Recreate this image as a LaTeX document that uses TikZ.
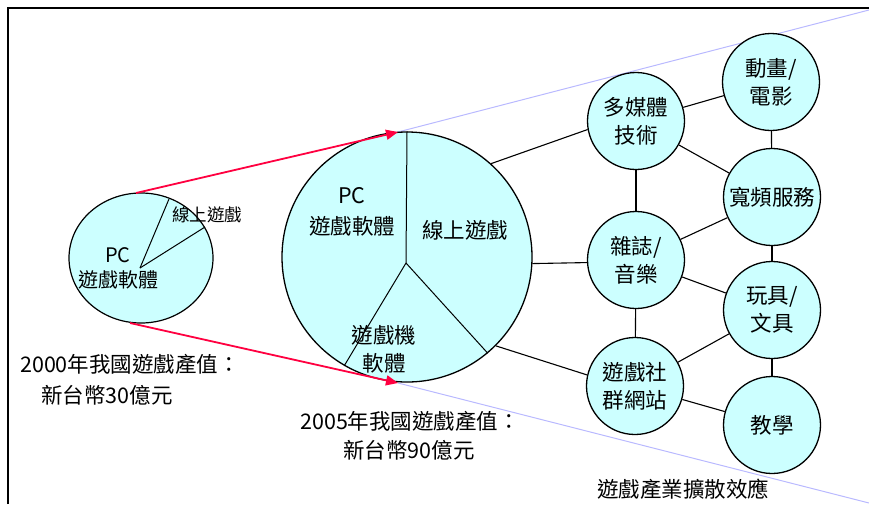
\documentclass[tikz,border=0pt]{standalone}
\usepackage{fontspec}
\setmainfont{Noto Sans CJK TC}
\usetikzlibrary{arrows.meta,shapes.geometric}
\definecolor{fillc}{RGB}{204,255,255}
\definecolor{redl}{RGB}{255,0,64}
\definecolor{lav}{RGB}{185,185,255}
\begin{document}
\begin{tikzpicture}[x=1pt,y=-1pt,
  bub/.style={circle, draw, fill=fillc, line width=1.3pt, minimum size=97pt, inner sep=0pt, align=center, font=\fontsize{21.5}{28}\selectfont},
  conn/.style={line width=1.1pt},
  pieline/.style={line width=1pt},
  lbl/.style={inner sep=0pt, font=\fontsize{21.5}{28}\selectfont, align=center},
  redarrow/.style={line width=1.8pt, draw=redl, -{Triangle[length=12pt,width=10pt,fill=redl]}},
  lavline/.style={line width=1pt, draw=lav}]
\useasboundingbox (0,0) rectangle (869,504);
% frame
\draw[line width=2pt] (8,504) -- (8,8) -- (869,8);
% lavender lines
\coordinate (bt) at (398,132);
\coordinate (bb) at (398,383);
\coordinate (tr) at (869,10);
\coordinate (br) at (869,503);
\draw[lavline] (bt) -- (tr);
\draw[lavline] (bb) -- (br);
% small pie
\node (small) [ellipse, draw, fill=fillc, line width=1.2pt, minimum width=144pt, minimum height=130pt, inner sep=0pt] at (141,258) {};
\coordinate (sc) at (140,268);
\coordinate (s1) at (169,199);
\coordinate (s2) at (205,227);
\draw[pieline] (sc) -- (s1);
\draw[pieline] (sc) -- (s2);
\node (sl1) [lbl, font=\fontsize{17.5}{20}\selectfont] at (207,215) {線上遊戲};
\node (sl2) [lbl, font=\fontsize{20}{25}\selectfont] at (118,268) {PC\\遊戲軟體};
% big pie
\node (big) [circle, draw, fill=fillc, line width=1.3pt, minimum size=250pt, inner sep=0pt] at (407,257) {};
\coordinate (bc) at (406,263);
\draw[pieline] (bc) -- (big.north);
\draw[pieline] (bc) -- (big.240);
\draw[pieline] (bc) -- (big.310);
\node (bl1) [lbl, font=\fontsize{21.5}{31}\selectfont] at (352,212) {PC\\遊戲軟體};
\node (bl2) [lbl] at (465,230) {線上遊戲};
\node (bl3) [lbl] at (384,349) {遊戲機\\軟體};
% red arrows
\coordinate (st) at (136,193);
\coordinate (sb) at (130,323);
\draw[redarrow] (st) -- (bt);
\draw[redarrow] (sb) -- (bb);
% right circles
\node (mm) [bub] at (636,121) {多媒體\\技術};
\node (anim) [bub] at (771,82) {動畫/\\電影};
\node (broad) [bub] at (772,197) {寬頻服務};
\node (mag) [bub] at (636,260) {雜誌/\\音樂};
\node (toy) [bub] at (772,310) {玩具/\\文具};
\node (sns) [bub] at (635,386) {遊戲社\\群網站};
\node (teach) [bub] at (772,425) {教學};
% connectors
\draw[conn] (big.48) -- (mm.190);
\draw[conn] (big.-3) -- (mag.183);
\draw[conn] (big.-45) -- (sns.167);
\draw[conn] (mm) -- (anim);
\draw[conn] (mm) -- (broad);
\draw[conn] (mm) -- (mag);
\draw[conn] (anim) -- (broad);
\draw[conn] (mag) -- (broad);
\draw[conn] (mag) -- (toy);
\draw[conn] (broad) -- (toy);
\draw[conn] (mag) -- (sns);
\draw[conn] (sns) -- (toy);
\draw[conn] (sns) -- (teach);
\draw[conn] (toy) -- (teach);
% captions
\node (c1a) [lbl, anchor=west] at (20,364) {2000年我國遊戲產值：};
\node (c1b) [lbl, anchor=west] at (41,395) {新台幣30億元};
\node (c2a) [lbl, anchor=west] at (300,421) {2005年我國遊戲產值：};
\node (c2b) [lbl, anchor=west] at (343,450) {新台幣90億元};
\node (c3) [lbl, anchor=west] at (597,489) {遊戲產業擴散效應};
\end{tikzpicture}
\end{document}
